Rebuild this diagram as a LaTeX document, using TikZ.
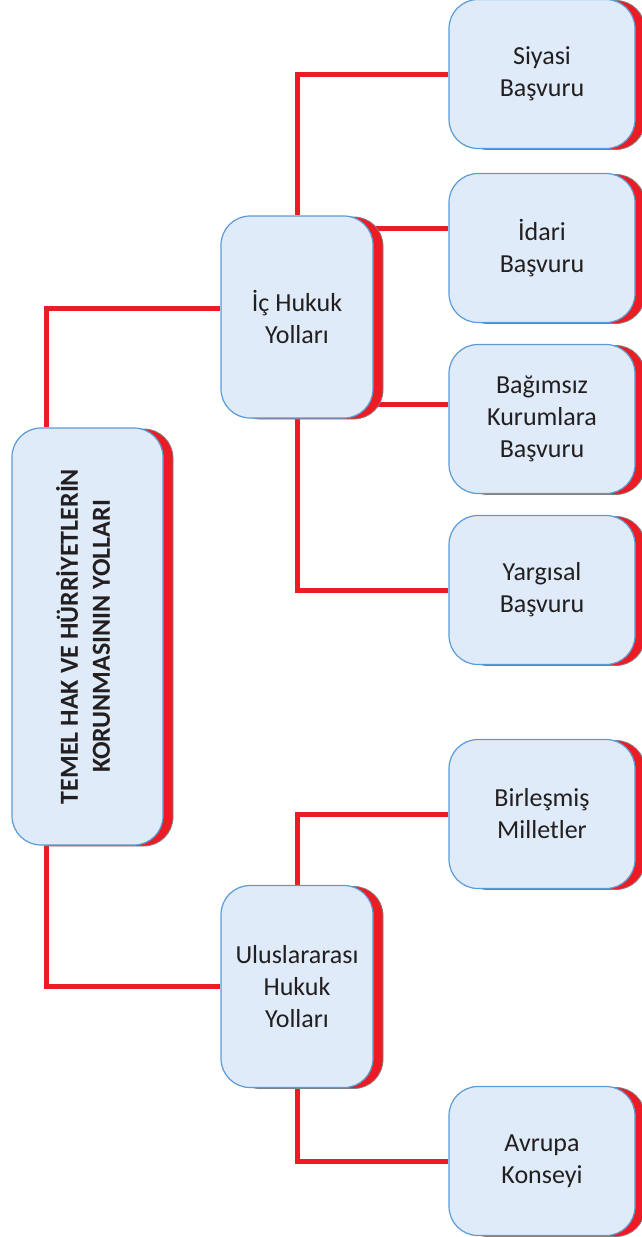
\documentclass[tikz,border=0pt]{standalone}
\usepackage{fontspec}
\setmainfont{Carlito}
\usetikzlibrary{shadows,backgrounds,calc}

\definecolor{linkred}{HTML}{ED1C24}
\definecolor{boxfill}{HTML}{DFEBF8}
\definecolor{boxline}{HTML}{5B9BD5}
\definecolor{ink}{HTML}{231F20}

\tikzset{
  box/.style={rectangle, rounded corners=29pt, draw=boxline, line width=1.2pt,
    fill=boxfill, text=ink, align=center, inner sep=0pt,
    font=\fontsize{26}{32}\selectfont,
    general shadow={shadow xshift=10pt, shadow yshift=-1pt, fill=linkred, draw=gray, line width=0.8pt}},
  leaf/.style={box, minimum width=186pt, minimum height=149pt},
  mid/.style={box, minimum width=152pt, minimum height=202pt},
  link/.style={draw=linkred, line width=5pt},
}

\begin{document}
\begin{tikzpicture}[x=1pt,y=-1pt]
      \useasboundingbox (0,0) rectangle (641,1237);

      % root
      \node[box, minimum width=151pt, minimum height=417pt] (root) at (87.5,636.5)
        {\rotatebox{90}{\bfseries\begin{tabular}{@{}c@{}}TEMEL HAK VE HÜRRİYETLERİN\\KORUNMASININ YOLLARI\end{tabular}}};

      % middle level
      \node[mid] (ic) at (297,317) {İç Hukuk\\Yolları};
      \node[mid] (ulus) at (297,986.5) {Uluslararası\\Hukuk\\Yolları};

      % leaves
      \foreach \name/\ypos/\txt in {siyasi/74/{Siyasi\\Başvuru},
          idari/248/{İdari\\Başvuru},
          bagimsiz/419/{Bağımsız\\Kurumlara\\Başvuru},
          yargisal/590/{Yargısal\\Başvuru},
          birlesmis/814/{Birleşmiş\\Milletler},
          avrupa/1161/{Avrupa\\Konseyi}} {
        \node[leaf] (\name) at (542,\ypos) {\txt};
      }

      \coordinate (root-top) at ([xshift=35pt]root.north west);
      \coordinate (root-bot) at ([xshift=35pt]root.south west);
      \coordinate (ic-in) at ([yshift=9pt]ic.west);
      \coordinate (ic-a) at ([yshift=-13pt]ic.north east);
      \coordinate (ic-b) at ([yshift=14pt]ic.south east);

      \begin{scope}[on background layer]
        \draw[link] (root-top) |- (ic-in);
        \draw[link] (root-bot) |- (ulus.west);
        \draw[link] (ic.north) |- (siyasi.west);
        \draw[link] (ic-a) -- (ic-a -| idari.west);
        \draw[link] (ic-b) -- (ic-b -| bagimsiz.west);
        \draw[link] (ic.south) |- (yargisal.west);
        \draw[link] (ulus.north) |- (birlesmis.west);
        \draw[link] (ulus.south) |- (avrupa.west);
      \end{scope}
\end{tikzpicture}
\end{document}
